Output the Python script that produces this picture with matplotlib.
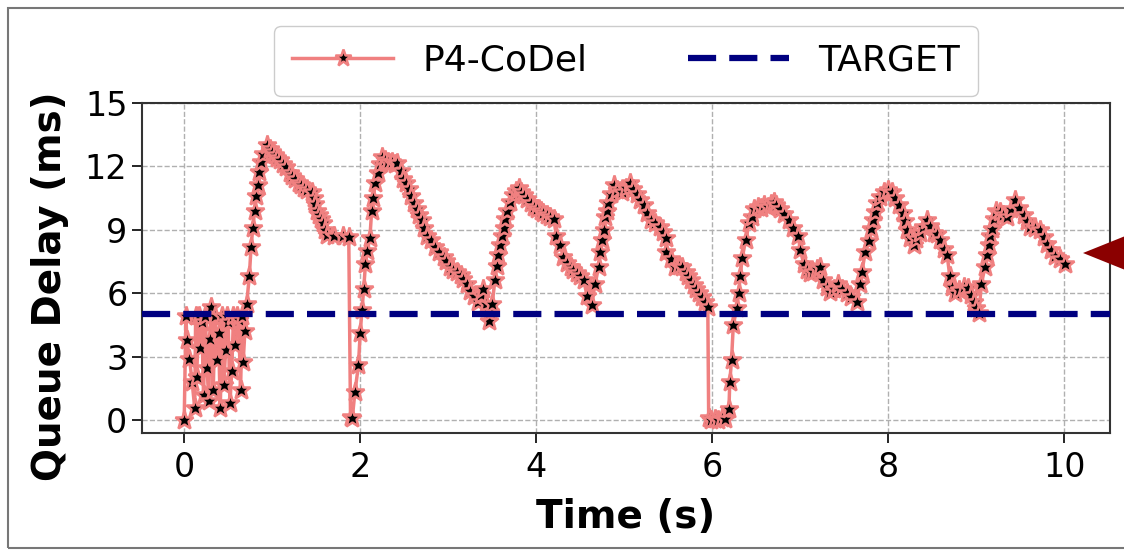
import matplotlib.pyplot as plt
from matplotlib.patches import Polygon, Rectangle

# temps (s) et delai de file d'attente (ms)
time_s = [
    0.00, 0.02, 0.03, 0.06, 0.09, 0.12, 0.13, 0.14, 0.17, 0.18, 0.20, 0.22,
    0.24, 0.26, 0.28, 0.29, 0.31, 0.33, 0.35, 0.37, 0.39, 0.41, 0.43, 0.45,
    0.47, 0.49, 0.50, 0.52, 0.54, 0.56, 0.58, 0.60, 0.62, 0.64, 0.66, 0.67,
    0.69, 0.71, 0.74, 0.76, 0.78, 0.80, 0.82, 0.84, 0.855, 0.87, 0.90, 0.94,
    0.97, 1.00, 1.03, 1.06, 1.09, 1.12, 1.16, 1.20, 1.23, 1.26, 1.30, 1.33,
    1.36, 1.40, 1.45, 1.47, 1.49, 1.51, 1.53, 1.56, 1.58, 1.60, 1.62, 1.70,
    1.80, 1.87, 1.89, 1.91, 1.94, 1.98, 2.00, 2.02, 2.04, 2.06, 2.08, 2.11,
    2.13, 2.15, 2.17, 2.20, 2.22, 2.25, 2.28, 2.32, 2.36, 2.39, 2.42, 2.46,
    2.49, 2.52, 2.55, 2.58, 2.61, 2.64, 2.67, 2.70, 2.73, 2.76, 2.80, 2.85,
    2.90, 2.95, 2.98, 3.02, 3.06, 3.10, 3.14, 3.17, 3.21, 3.25, 3.29, 3.34,
    3.37, 3.40, 3.43, 3.46, 3.48, 3.50, 3.53, 3.55, 3.57, 3.59, 3.61, 3.63,
    3.65, 3.67, 3.70, 3.74, 3.77, 3.80, 3.83, 3.86, 3.90, 3.94, 3.97, 4.01,
    4.05, 4.08, 4.12, 4.16, 4.20, 4.23, 4.27, 4.31, 4.35, 4.39, 4.42, 4.46,
    4.50, 4.54, 4.58, 4.63, 4.67, 4.71, 4.73, 4.75, 4.77, 4.78, 4.80, 4.82,
    4.85, 4.88, 4.92, 4.97, 5.02, 5.07, 5.10, 5.14, 5.18, 5.22, 5.26, 5.30,
    5.35, 5.41, 5.44, 5.47, 5.48, 5.53, 5.58, 5.62, 5.66, 5.70, 5.73, 5.76,
    5.79, 5.82, 5.85, 5.88, 5.92, 5.95, 5.96, 5.99, 6.03, 6.07, 6.11, 6.15,
    6.19, 6.20, 6.22, 6.24, 6.28, 6.30, 6.32, 6.34, 6.38, 6.42, 6.45, 6.47,
    6.52, 6.56, 6.59, 6.63, 6.67, 6.70, 6.73, 6.77, 6.82, 6.87, 6.92, 6.98,
    7.00, 7.04, 7.08, 7.11, 7.15, 7.19, 7.23, 7.26, 7.30, 7.34, 7.38, 7.43,
    7.48, 7.53, 7.58, 7.64, 7.68, 7.70, 7.74, 7.78, 7.81, 7.83, 7.85, 7.87,
    7.91, 7.95, 8.00, 8.04, 8.08, 8.12, 8.17, 8.19, 8.21, 8.25, 8.29, 8.32,
    8.36, 8.40, 8.44, 8.48, 8.52, 8.55, 8.59, 8.63, 8.67, 8.70, 8.73, 8.76,
    8.81, 8.86, 8.91, 8.94, 8.97, 9.00, 9.03, 9.06, 9.10, 9.12, 9.14, 9.16,
    9.18, 9.20, 9.23, 9.27, 9.31, 9.35, 9.40, 9.44, 9.49, 9.54, 9.58, 9.61,
    9.67, 9.73, 9.77, 9.80, 9.85, 9.90, 9.95, 10.01,
]
delay_ms = [
    0.0, 4.9, 3.8, 2.9, 1.8, 0.55, 4.9, 2.05, 4.9, 3.4, 4.65, 1.2,
    4.9, 2.45, 0.9, 3.85, 5.35, 1.4, 4.9, 2.85, 4.1, 0.55, 4.9, 1.65,
    3.3, 4.9, 4.65, 0.8, 2.3, 4.9, 3.55, 4.9, 4.75, 1.4, 4.9, 2.75,
    4.2, 5.5, 6.8, 8.2, 9.1, 9.9, 10.6, 11.1, 11.75, 12.2, 12.6, 13.0,
    12.8, 12.7, 12.55, 12.4, 12.3, 12.1, 11.95, 11.7, 11.55, 11.4, 11.2, 11.1,
    11.0, 10.9, 10.8, 10.5, 10.2, 9.9, 9.7, 9.5, 9.3, 9.0, 8.75, 8.7,
    8.7, 8.65, 0.15, 0.1, 1.3, 2.6, 4.1, 5.2, 6.2, 7.4, 8.0, 8.6,
    9.9, 10.5, 11.2, 11.7, 12.1, 12.45, 12.3, 12.2, 12.2, 12.1, 12.15, 11.8,
    11.4, 11.2, 10.95, 10.6, 10.25, 10.0, 9.7, 9.45, 9.1, 8.7, 8.5, 8.2,
    7.95, 7.7, 7.5, 7.25, 7.1, 7.0, 6.85, 6.65, 6.45, 6.1, 5.85, 5.6,
    5.9, 6.2, 5.5, 4.7, 5.1, 5.5, 6.6, 7.3, 7.8, 8.3, 8.7, 9.1,
    9.5, 9.9, 10.3, 10.65, 10.85, 11.0, 10.8, 10.65, 10.45, 10.25, 10.1, 10.0,
    9.9, 9.8, 9.7, 9.6, 9.5, 8.7, 8.3, 7.7, 7.45, 7.25, 7.1, 6.95,
    6.8, 6.6, 5.85, 5.45, 6.45, 7.25, 7.95, 8.5, 9.0, 9.6, 9.9, 10.25,
    10.7, 11.1, 10.9, 10.8, 11.0, 11.2, 10.95, 10.7, 10.4, 10.15, 9.8, 9.45,
    9.3, 9.15, 8.9, 8.6, 7.95, 7.6, 7.25, 7.3, 7.25, 7.0, 6.8, 6.6,
    6.4, 6.2, 6.0, 5.8, 5.6, 5.35, 0.1, 0.0, 0.05, 0.0, 0.1, 0.05,
    0.5, 1.8, 2.85, 4.5, 5.3, 6.0, 6.8, 7.65, 8.5, 9.3, 9.6, 10.0,
    10.1, 10.05, 10.15, 10.1, 10.2, 10.3, 10.15, 10.0, 9.75, 9.45, 9.1, 8.7,
    8.05, 7.4, 7.1, 6.95, 7.0, 7.15, 7.25, 6.6, 6.3, 6.05, 6.2, 6.45,
    6.2, 6.0, 5.8, 5.6, 6.45, 7.0, 7.95, 8.45, 9.05, 9.45, 9.85, 10.25,
    10.55, 10.8, 10.9, 10.8, 10.5, 10.15, 9.8, 9.4, 9.0, 8.6, 8.3, 8.55,
    8.85, 9.15, 9.45, 9.2, 8.85, 8.8, 8.5, 8.1, 7.8, 6.8, 6.3, 6.0,
    6.15, 6.3, 6.25, 5.9, 5.6, 5.3, 5.05, 6.45, 7.25, 7.8, 8.3, 8.7,
    9.05, 9.5, 9.9, 9.85, 9.7, 9.6, 10.0, 10.4, 10.05, 9.7, 9.4, 9.15,
    9.1, 9.0, 8.65, 8.35, 8.05, 7.75, 7.6, 7.4,
]
target_ms = 5
x_ticks = [0, 2, 4, 6, 8, 10]
y_ticks = [0, 3, 6, 9, 12, 15]

fig = plt.figure(figsize=(11.24, 5.53), dpi=100)
ax = fig.add_axes([0.1263, 0.217, 0.8612, 0.5967])

ax.plot(time_s, delay_ms, color="lightcoral", linewidth=2.5, marker="*",
        markersize=14, markerfacecolor="black", markeredgecolor="lightcoral",
        markeredgewidth=1.8, label="P4-CoDel", zorder=3)
ax.axhline(target_ms, color="navy", linewidth=4.5, dashes=(4.5, 2.1),
           label="TARGET", zorder=4)

ax.set_xlim(-0.48, 10.52)
ax.set_ylim(-0.62, 15)
ax.set_xticks(x_ticks)
ax.set_yticks(y_ticks)
ax.tick_params(labelsize=24, length=7, width=1.2)
ax.tick_params(axis="x", pad=6)
ax.grid(True, linestyle="--", color="#b0b0b0", linewidth=1)
for s in ax.spines.values():
    s.set_color("#333333")
    s.set_linewidth(1.5)

ax.set_xlabel("Time (s)", fontsize=28, fontweight="bold", labelpad=10)
ax.set_ylabel("Queue Delay (ms)", fontsize=28, fontweight="bold")
ax.yaxis.set_label_coords(-0.075, 0.445)

ax.legend(loc="lower center", bbox_to_anchor=(0.5, 1.0), ncol=2,
          fontsize=26, handlelength=2.8, columnspacing=2.8,
          borderaxespad=0.2, borderpad=0.5, framealpha=1,
          edgecolor="#cccccc", markerscale=0.9)

# cadre gris autour de la figure
fig.patches.append(Rectangle((8 / 1124, 5 / 553), 1.1, 540 / 553,
                             transform=fig.transFigure, fill=False,
                             edgecolor="#777777", linewidth=1.5))
# fleche rouge a droite
fig.patches.append(Polygon([(1083 / 1124, 1 - 253 / 553),
                            (1.01, 1 - 232 / 553),
                            (1.01, 1 - 274 / 553)],
                           closed=True, transform=fig.transFigure,
                           facecolor="#8b0000", edgecolor="none"))

fig.savefig("out.png", dpi=100)
